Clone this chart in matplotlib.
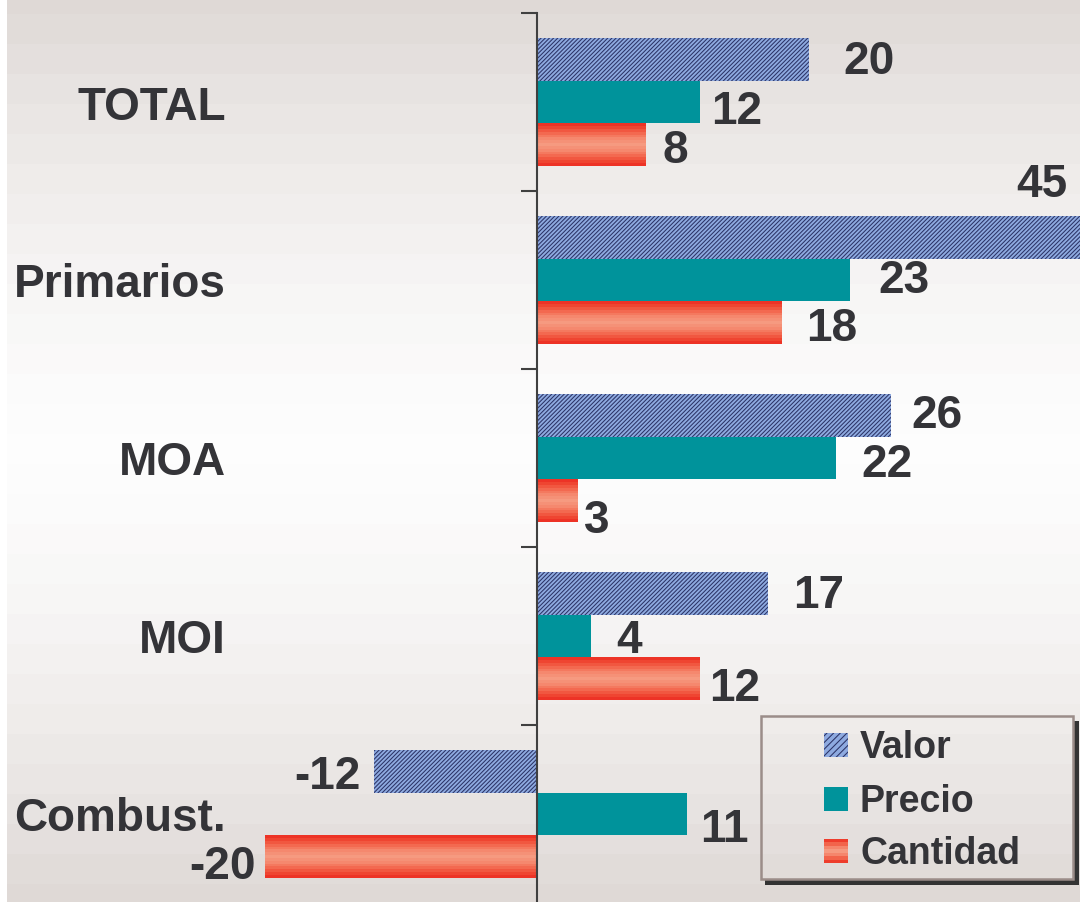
import numpy as np
import matplotlib
matplotlib.use("Agg")
import matplotlib.pyplot as plt
from matplotlib.patches import Rectangle
from matplotlib.colors import LinearSegmentedColormap, to_rgb

# ---------------- data ----------------
categories = ["TOTAL", "Primarios", "MOA", "MOI", "Combust."]
series = ["Valor", "Precio", "Cantidad"]
valor = [20, 45, 26, 17, -12]
precio = [12, 23, 22, 4, 11]
cantidad = [8, 18, 3, 12, -20]

# label nudges in pixels (dx right, dy down) relative to bar end / bar centre
nudge_valor = [(34, -2.5), (-64, -58), (21, -5), (25, -3), (-13, 0)]
nudge_precio = [(11, 4), (29, -4), (25, 2), (25, 0), (14, 11)]
nudge_cantidad = [(17, 1), (24, 1), (6, 15), (9, 5), (-9, 5)]

# ---------------- style ----------------
plt.rcParams["font.family"] = ["Liberation Sans", "DejaVu Sans"]
plt.rcParams["hatch.linewidth"] = 0.75
TXT = "#343438"
VAL_FACE, VAL_HATCH = "#8eaae0", "#2b3366"
PRE_COL = "#00939b"
cant_cmap = LinearSegmentedColormap.from_list(
    "cant", ["#ec2a20", "#f04c36", "#f36e54", "#f58a70", "#f69a80",
             "#f58a70", "#f36e54", "#f04c36", "#ec2a20"])

W, H, DPI = 1080, 903, 100
fig = plt.figure(figsize=(W / DPI, H / DPI), dpi=DPI, facecolor="white")

# background: banded vertical gradient
bg = fig.add_axes([7 / W, 0, 1 - 7 / W, 1])
bg.axis("off")
rows = np.arange(H)
band = ((rows + 15) // 30) * 30
t = np.clip(np.abs(band - 450) / 450, 0, 1) ** 1.5
edge = np.array(to_rgb("#dfd9d6"))
mid = np.array(to_rgb("#fdfdfd"))
img = mid + (edge - mid) * t[:, None]
bg.imshow(img[:, None, :], aspect="auto", interpolation="nearest")

# main axes
ax = fig.add_axes([0, 0, 1, 1], facecolor="none")
x0_px, px_per_unit = 537, 13.6
ax.set_xlim(-x0_px / px_per_unit, (W - x0_px) / px_per_unit)
yc0, y_step = 103, 178
ybot, ytop = (H - yc0) / y_step, -yc0 / y_step

y = np.arange(len(categories))
h = 0.239

ax.barh(y - h, valor, height=h, color=VAL_FACE, edgecolor=VAL_HATCH,
        linewidth=0, hatch="////////", zorder=2)
ax.barh(y, precio, height=h, color=PRE_COL, linewidth=0, zorder=2)
nb = 15
for k in range(nb):
    ax.barh(y + h / 2 + k * h / nb, cantidad, height=h / nb * 1.02, align="edge",
            color=cant_cmap((k + 0.5) / nb), linewidth=0, zorder=2)

ax.set_ylim(ybot, ytop)

for s in ["top", "right", "bottom"]:
    ax.spines[s].set_visible(False)
sp = ax.spines["left"]
sp.set_position(("data", 0))
sp.set_bounds(-0.5, ybot)
sp.set_color("#404040")
sp.set_linewidth(1.5)
sp.set_zorder(5)
ax.set_yticks(y - 0.5)
ax.set_yticklabels([])
ax.set_xticks([])
ax.tick_params(axis="y", direction="out", length=16 * 72 / DPI, width=1.5,
               color="#404040")
ax.set_ylim(ybot, ytop)

# category labels
for i, c in enumerate(categories):
    ax.annotate(c, xy=(226 / W, i), xycoords=ax.get_yaxis_transform(),
                xytext=(0, -16.5), textcoords="offset pixels",
                ha="right", va="baseline", fontsize=33, fontweight="bold",
                color=TXT)

# value labels
xmax = ax.get_xlim()[1]
for vals, offs, yoff in [(valor, nudge_valor, -h), (precio, nudge_precio, 0),
                         (cantidad, nudge_cantidad, h)]:
    for i, (v, (dx, dy)) in enumerate(zip(vals, offs)):
        ax.annotate(str(v), xy=(min(v, xmax), i + yoff),
                    xytext=(dx, -(dy + 16.5)), textcoords="offset pixels",
                    ha="right" if v < 0 else "left",
                    va="baseline", fontsize=33, fontweight="bold", color=TXT,
                    annotation_clip=False)

# legend (pixel coordinates)
lg = fig.add_axes([0, 0, 1, 1], facecolor="none")
lg.set_xlim(0, W)
lg.set_ylim(H, 0)
lg.axis("off")
lg.add_patch(Rectangle((1073, 722), 6, 164, facecolor="#333333", linewidth=0))
lg.add_patch(Rectangle((765, 880), 314, 6, facecolor="#333333", linewidth=0))
lg.add_patch(Rectangle((761, 717), 312, 163, facecolor="none",
                       edgecolor="#9b8d89", linewidth=1.8))
sq = 24
tops = [734, 788, 840]
lg.add_patch(Rectangle((824, tops[0]), sq, sq, facecolor=VAL_FACE,
                       edgecolor=VAL_HATCH, linewidth=0, hatch="/////"))
lg.add_patch(Rectangle((824, tops[1]), sq, sq, facecolor=PRE_COL, linewidth=0))
nlb = 7
for k in range(nlb):
    lg.add_patch(Rectangle((824, tops[2] + k * sq / nlb), sq, sq / nlb + 0.3,
                           facecolor=cant_cmap((k + 0.5) / nlb), linewidth=0))
for name, tp in zip(series, tops):
    lg.text(860, tp + sq, name, ha="left", va="baseline", fontsize=27,
            fontweight="bold", color=TXT)

fig.savefig("out.png", dpi=DPI, facecolor=fig.get_facecolor())
